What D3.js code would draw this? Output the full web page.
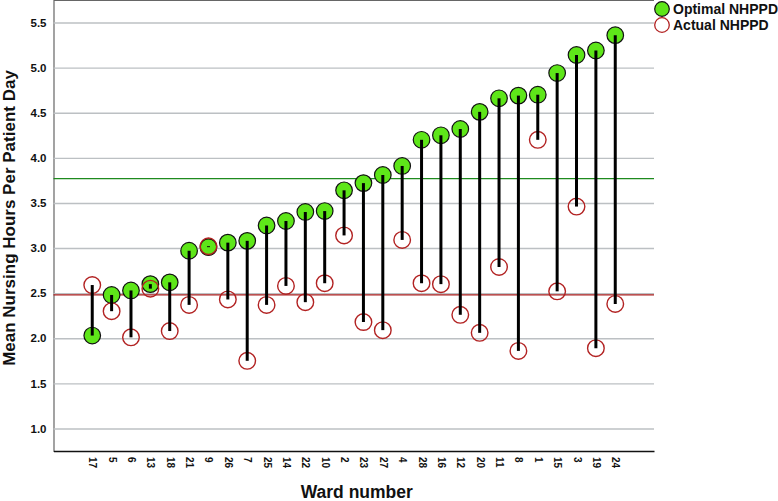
<!DOCTYPE html>
<html>
<head>
  <meta charset="utf-8">
  <title>Optimal vs Actual NHPPD by Ward</title>
  <script src="https://d3js.org/d3.v7.min.js"></script>
</head>

<style>
body { margin: 0; background: #fff; }
text { font-family: "Liberation Sans", Arial, sans-serif; font-weight: bold; }
.grid line { stroke: #bcc0c3; stroke-width: 1.4; }
</style>

<body>
</body>
<script>

  // wards, sorted by optimal NHPPD
  var wards = ['17', '5', '6', '13', '18', '21', '9', '26', '7', '25', '14', '22', '10', '2',
               '23', '27', '4', '28', '16', '12', '20', '11', '8', '1', '15', '3', '19', '24'];

  var optimal = [2.03, 2.48, 2.53, 2.60, 2.62, 2.97, 3.01, 3.06, 3.08, 3.25, 3.30, 3.40, 3.41, 3.64,
                 3.72, 3.81, 3.91, 4.20, 4.25, 4.32, 4.51, 4.66, 4.69, 4.70, 4.94, 5.14, 5.19, 5.36];

  var actual = [2.59, 2.30, 2.01, 2.55, 2.08, 2.37, 3.02, 2.43, 1.75, 2.37, 2.58, 2.40, 2.61, 3.14,
                2.18, 2.09, 3.09, 2.61, 2.60, 2.26, 2.06, 2.79, 1.86, 4.20, 2.52, 3.46, 1.89, 2.38];

  var yTicks = [1.0, 1.5, 2.0, 2.5, 3.0, 3.5, 4.0, 4.5, 5.0, 5.5];

  // mean lines
  var meanOptimal = 3.77;
  var meanActual = 2.48;

  var margin = {top: 0, right: 124, bottom: 50, left: 53.5}
    , width = 778 - margin.left - margin.right
    , height = 501 - margin.top - margin.bottom;

  var svg = d3.select('body').append('svg')
    .attr('width', 778)
    .attr('height', 501)
    .append('g')
      .attr('transform', 'translate(' + margin.left + ',' + margin.top + ')');

  var xScale = d3.scalePoint()
    .domain(wards)
    .range([0, width])
    .padding(2);

  var yScale = d3.scaleLinear()
    .domain([0.75, 5.75])
    .range([height, 0]);

  // gridlines + y axis
  var yAxis = svg.append('g')
    .attr('class', 'grid')
    .call(d3.axisLeft(yScale).tickValues(yTicks).tickSize(-width).tickPadding(7)
      .tickFormat(d3.format('.1f')));
  yAxis.select('.domain').attr('stroke', '#666').attr('stroke-width', 1.2);
  yAxis.selectAll('text').style('font-size', '11.5px').attr('fill', '#111');

  // x axis
  var xAxis = svg.append('g')
    .attr('transform', 'translate(0,' + height + ')')
    .call(d3.axisBottom(xScale).tickSize(0));
  xAxis.select('.domain').attr('stroke', '#111').attr('stroke-width', 1.3);
  xAxis.selectAll('text')
    .style('font-size', '10px')
    .attr('fill', '#111')
    .attr('transform', 'rotate(90)')
    .attr('x', 6)
    .attr('y', 0)
    .attr('dy', '0.35em')
    .style('text-anchor', 'start');

  // mean reference lines
  svg.append('line')
    .attr('x1', 0).attr('x2', width)
    .attr('y1', yScale(meanOptimal)).attr('y2', yScale(meanOptimal))
    .attr('stroke', '#1e8a1e').attr('stroke-width', 1.3);

  svg.append('line')
    .attr('x1', 0).attr('x2', width)
    .attr('y1', yScale(meanActual)).attr('y2', yScale(meanActual))
    .attr('stroke', '#a81c1c').attr('stroke-width', 1.2);

  var rows = wards.map(function(w, i) {
    return {ward: w, optimal: optimal[i], actual: actual[i]};
  });

  // optimal points
  svg.selectAll('.opt')
    .data(rows)
    .enter()
      .append('circle')
      .attr('class', 'opt')
      .attr('cx', function(d) { return xScale(d.ward); })
      .attr('cy', function(d) { return yScale(d.optimal); })
      .attr('r', 8.3)
      .attr('fill', '#5ee619')
      .attr('stroke', '#111')
      .attr('stroke-width', 1.2);

  // actual points
  svg.selectAll('.act')
    .data(rows)
    .enter()
      .append('circle')
      .attr('class', 'act')
      .attr('cx', function(d) { return xScale(d.ward); })
      .attr('cy', function(d) { return yScale(d.actual); })
      .attr('r', 8.3)
      .attr('fill', 'none')
      .attr('stroke', '#b22222')
      .attr('stroke-width', 1.4);

  // drop lines between the two
  svg.selectAll('.stem')
    .data(rows)
    .enter()
      .append('line')
      .attr('class', 'stem')
      .attr('x1', function(d) { return xScale(d.ward); })
      .attr('x2', function(d) { return xScale(d.ward); })
      .attr('y1', function(d) { return yScale(d.optimal); })
      .attr('y2', function(d) { return yScale(d.actual); })
      .attr('stroke', '#000')
      .attr('stroke-width', 3);

  // axis titles
  svg.append('text')
    .attr('x', width / 2 + 3)
    .attr('y', height + 47)
    .style('text-anchor', 'middle')
    .style('font-size', '17.5px')
    .attr('fill', '#111')
    .text('Ward number');

  svg.append('text')
    .attr('transform', 'rotate(-90)')
    .attr('x', -218)
    .attr('y', -margin.left + 15)
    .style('text-anchor', 'middle')
    .style('font-size', '17px')
    .attr('fill', '#111')
    .text('Mean Nursing Hours Per Patient Day');

  // legend
  var legend = svg.append('g')
    .attr('transform', 'translate(' + (width + 8) + ',0)');

  legend.append('circle')
    .attr('cx', 0).attr('cy', 9).attr('r', 7.3)
    .attr('fill', '#5ee619').attr('stroke', '#111').attr('stroke-width', 1.2);
  legend.append('text')
    .attr('x', 11).attr('y', 9.5).attr('dy', '0.35em')
    .style('font-size', '14px').attr('fill', '#111')
    .text('Optimal NHPPD');

  legend.append('circle')
    .attr('cx', 0).attr('cy', 25).attr('r', 7.3)
    .attr('fill', 'none').attr('stroke', '#b22222').attr('stroke-width', 1.3);
  legend.append('text')
    .attr('x', 11).attr('y', 25.5).attr('dy', '0.35em')
    .style('font-size', '14px').attr('fill', '#111')
    .text('Actual NHPPD');

</script>
</html>
